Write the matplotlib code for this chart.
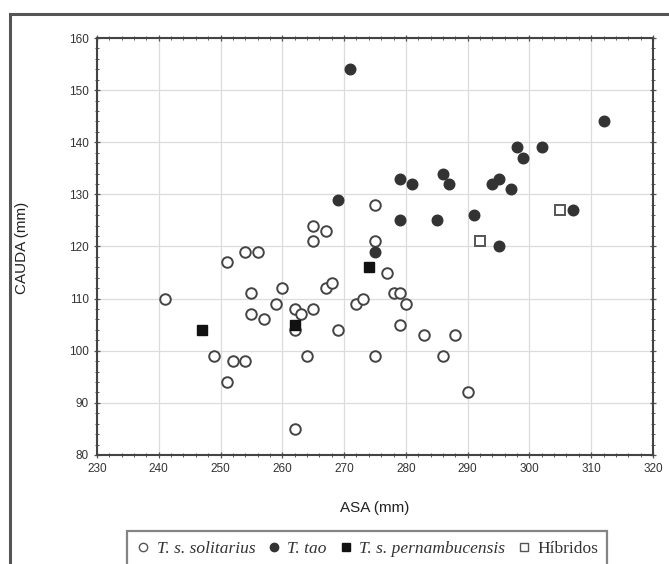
import matplotlib
matplotlib.use("Agg")
import matplotlib.pyplot as plt
from matplotlib.lines import Line2D
from matplotlib.patches import Rectangle

# T. s. solitarius (open circles)
sol_asa = [241, 251, 254, 256, 255, 255, 257, 259, 260, 262, 263, 262, 265, 267, 268,
           269, 272, 273, 249, 252, 254, 251, 264, 262, 265, 267, 265, 275, 275, 277,
           278, 279, 280, 279, 283, 288, 286, 275, 290]
sol_cauda = [110, 117, 119, 119, 111, 107, 106, 109, 112, 108, 107, 104, 108, 112, 113,
             104, 109, 110, 99, 98, 98, 94, 99, 85, 124, 123, 121, 128, 121, 115,
             111, 111, 109, 105, 103, 103, 99, 99, 92]
# T. tao (filled circles)
tao_asa = [271, 312, 298, 299, 302, 279, 281, 286, 287, 294, 295, 297, 269, 279, 285,
           291, 295, 307, 275]
tao_cauda = [154, 144, 139, 137, 139, 133, 132, 134, 132, 132, 133, 131, 129, 125, 125,
             126, 120, 127, 119]
# T. s. pernambucensis (filled squares)
per_asa = [247, 262, 274]
per_cauda = [104, 105, 116]
# Hibridos (open squares)
hib_asa = [292, 305]
hib_cauda = [121, 127]

xticks = [230, 240, 250, 260, 270, 280, 290, 300, 310, 320]
yticks = [80, 90, 100, 110, 120, 130, 140, 150, 160]
labels = ["T. s. solitarius", "T. tao", "T. s. pernambucensis", "Híbridos"]

plt.rcParams['font.family'] = ['Liberation Sans', 'DejaVu Sans']

fig = plt.figure(figsize=(6.69, 5.64), dpi=100)
fig.patch.set_facecolor('white')
ax = fig.add_axes([0.145, 0.1933, 0.831, 0.7393])

# outer frame
fig.patches.append(Rectangle((10/669, -0.05), 1.1, (564-14)/564 + 0.05,
                             transform=fig.transFigure, fill=False,
                             edgecolor='#555555', linewidth=2.2, zorder=0))

ax.grid(True, color='#dcdcdc', linewidth=0.9, zorder=0)
ax.set_axisbelow(True)

ms = 7.6
ax.plot(sol_asa, sol_cauda, 'o', ms=ms, mfc='white', mec='#444444', mew=1.4, zorder=3)
ax.plot(tao_asa, tao_cauda, 'o', ms=ms, mfc='#333333', mec='#333333', mew=1.0, zorder=4)
ax.plot(per_asa, per_cauda, 's', ms=ms, mfc='#111111', mec='#111111', mew=1.0, zorder=5)
ax.plot(hib_asa, hib_cauda, 's', ms=ms, mfc='white', mec='#555555', mew=1.4, zorder=5)

ax.set_xlim(230, 320)
ax.set_ylim(80, 160)
ax.set_xticks(xticks)
ax.set_yticks(yticks)
ax.set_xticks(range(230, 321, 2), minor=True)
ax.set_yticks(range(80, 161, 2), minor=True)
ax.tick_params(which='both', direction='inout', top=True, right=True,
               color='#555555', labelsize=8.5, labelcolor='#333333')
ax.tick_params(which='major', length=5, width=0.9)
ax.tick_params(which='minor', length=3, width=0.7)
for s in ax.spines.values():
    s.set_color('#444444')
    s.set_linewidth(1.5)

ax.set_xlabel("ASA (mm)", fontsize=11, color='#222222')
ax.set_ylabel("CAUDA (mm)", fontsize=11, color='#222222')
ax.xaxis.set_label_coords(0.5, -0.127)
ax.yaxis.set_label_coords(-0.135, 0.496)
ax.xaxis.label.set_va('center')
ax.yaxis.label.set_va('center')

handles = [
    Line2D([], [], ls='none', marker='o', ms=6, mfc='white', mec='#555555', mew=1.0),
    Line2D([], [], ls='none', marker='o', ms=6, mfc='#333333', mec='#333333'),
    Line2D([], [], ls='none', marker='s', ms=6, mfc='#111111', mec='#111111'),
    Line2D([], [], ls='none', marker='s', ms=6, mfc='white', mec='#555555', mew=1.0),
]
leg = fig.legend(handles, labels, ncol=4, loc='upper left',
                 bbox_to_anchor=(127/669, (564-531)/564),
                 prop={'family': 'Liberation Serif', 'style': 'italic', 'size': 12.5},
                 frameon=True, fancybox=False, handlelength=0.8, handletextpad=0.35,
                 columnspacing=0.7, borderpad=0.55, borderaxespad=0)
leg.get_frame().set_edgecolor('#666666')
leg.get_frame().set_linewidth(1.6)
leg.get_texts()[3].set_style('normal')
for t in leg.get_texts():
    t.set_color('#333333')

fig.savefig("out.png", dpi=100, facecolor='white')
